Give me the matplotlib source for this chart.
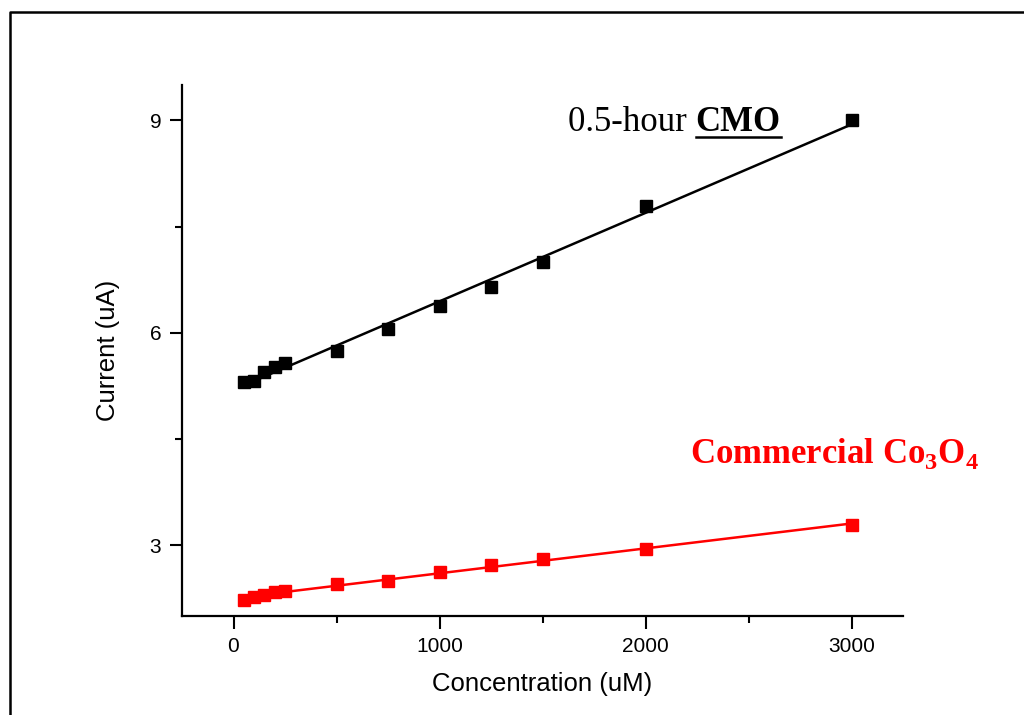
#!/usr/bin/env python3
"""Current response vs. concentration: 0.5-hour CMO vs commercial Co3O4."""

import numpy as np
import matplotlib
matplotlib.use("Agg")
import matplotlib.pyplot as plt
from matplotlib.lines import Line2D
from matplotlib.ticker import MultipleLocator

plt.rcParams["font.family"] = ["Liberation Sans", "DejaVu Sans"]
plt.rcParams["mathtext.fontset"] = "custom"
plt.rcParams["mathtext.rm"] = "Liberation Serif:bold"
plt.rcParams["mathtext.bf"] = "Liberation Serif:bold"

# concentration (uM)
conc = [50, 100, 150, 200, 250, 500, 750, 1000, 1250, 1500, 2000, 3000]
# current (uA)
cmo_current = [5.30, 5.32, 5.45, 5.51, 5.58, 5.74, 6.06, 6.38, 6.64, 7.00, 7.79, 9.00]
co3o4_current = [2.23, 2.27, 2.29, 2.34, 2.36, 2.45, 2.49, 2.62, 2.72, 2.80, 2.94, 3.29]

C_CMO = "#000000"
C_COM = "#ff0000"

fig = plt.figure(figsize=(10.24, 7.15), dpi=100)
ax = fig.add_axes([182 / 1024, 1 - 616 / 715, (903 - 182) / 1024, (616 - 85) / 715])

x = np.array(conc, dtype=float)
for y, c in [(cmo_current, C_CMO), (co3o4_current, C_COM)]:
    y = np.array(y)
    ax.plot(x, y, "s", color=c, ms=8.5, zorder=3)
    # least-squares line through each series
    k, b = np.polyfit(x, y, 1)
    xf = np.array([x[0], x[-1]])
    ax.plot(xf, k * xf + b, "-", color=c, lw=1.8, zorder=2)

ax.set_xlim(-250, 3250)
ax.set_ylim(2.0, 9.5)
ax.xaxis.set_major_locator(MultipleLocator(1000))
ax.xaxis.set_minor_locator(MultipleLocator(500))
ax.yaxis.set_major_locator(MultipleLocator(3))
ax.yaxis.set_minor_locator(MultipleLocator(1.5))
ax.tick_params(which="both", direction="out", width=1.5, labelsize=15, color="black")
ax.tick_params(which="major", length=9, pad=6)
ax.tick_params(which="minor", length=5)

for side in ("top", "right"):
    ax.spines[side].set_visible(False)
for side in ("left", "bottom"):
    ax.spines[side].set_linewidth(1.6)

ax.set_xlabel("Concentration (uM)", fontsize=18.5, labelpad=12)
ax.set_ylabel("Current (uA)", fontsize=18.5, labelpad=21)

# series labels
t1 = fig.text(568 / 1024, 1 - 131 / 715, "0.5-hour ", fontsize=25,
              family="Liberation Serif", color="black", va="baseline")
fig.canvas.draw()
r = fig.canvas.get_renderer()
bb = t1.get_window_extent(r)
t2 = fig.text(bb.x1 / 1024, 1 - 131 / 715, "CMO", fontsize=25,
              family="Liberation Serif", weight="bold", color="black", va="baseline")
bb2 = t2.get_window_extent(r)
fig.add_artist(Line2D([bb2.x0 / 1024, bb2.x1 / 1024], [1 - 137 / 715] * 2,
                      transform=fig.transFigure, color="black", lw=1.8))

fig.text(690 / 1024, 1 - 463 / 715, r"Commercial Co$_\mathbf{3}$O$_\mathbf{4}$",
         fontsize=25, family="Liberation Serif", weight="bold", color=C_COM,
         va="baseline")

# outer frame
fig.add_artist(Line2D([10 / 1024, 10 / 1024, 1.0], [0.0, 1 - 12 / 715, 1 - 12 / 715],
                      transform=fig.transFigure, color="black", lw=1.8))

fig.savefig("out.png", dpi=100)
plt.close(fig)
